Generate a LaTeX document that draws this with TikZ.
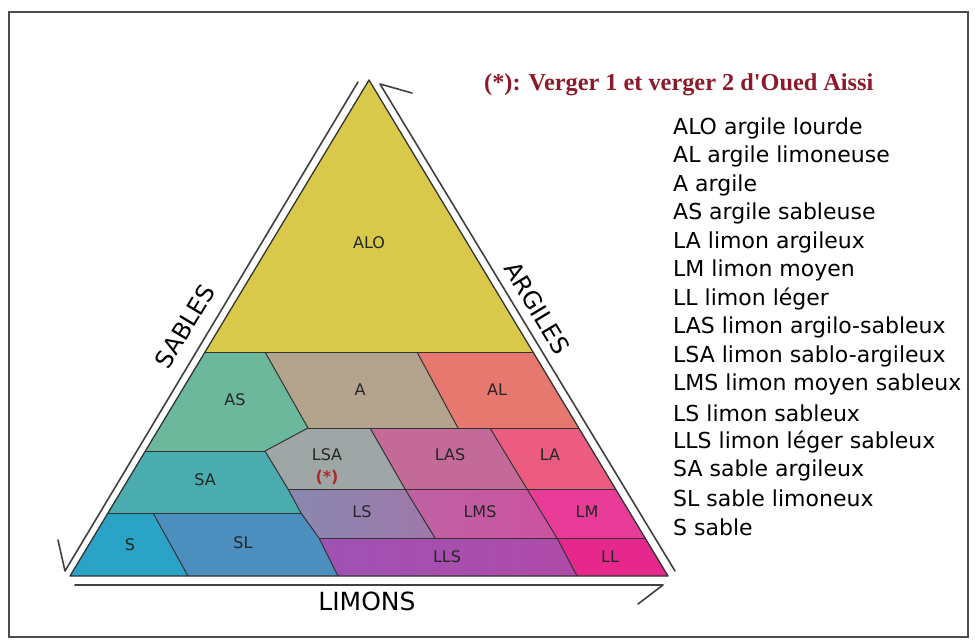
\documentclass[tikz,border=0pt]{standalone}
\usepackage{fontspec}
\setmainfont{DejaVu Sans}
\newfontfamily\titlefont{Liberation Serif}
\definecolor{cALO}{HTML}{D9C94B}
\definecolor{cAS}{HTML}{6CB89C}
\definecolor{cA}{HTML}{B4A38C}
\definecolor{cAL}{HTML}{E67870}
\definecolor{cLSA}{HTML}{9FA6A6}
\definecolor{cLAS}{HTML}{C46A98}
\definecolor{cLA}{HTML}{EC5C80}
\definecolor{cSA}{HTML}{4AACAE}
\definecolor{cLSl}{HTML}{8A88B0}
\definecolor{cLSr}{HTML}{A078AA}
\definecolor{cLMSl}{HTML}{BE62A2}
\definecolor{cLMSr}{HTML}{CC52A0}
\definecolor{cLM}{HTML}{E83C98}
\definecolor{cS}{HTML}{2BA3C6}
\definecolor{cSL}{HTML}{4C8EBE}
\definecolor{cLLSl}{HTML}{9E52B4}
\definecolor{cLLSr}{HTML}{B04AA8}
\definecolor{cLL}{HTML}{E6288C}
\definecolor{titlered}{HTML}{8B1A2A}
\definecolor{starred}{HTML}{B02A2A}
\begin{document}
\begin{tikzpicture}[x=1pt,y=-1pt,
  region/.style={draw=black!80, line width=1pt, line join=round},
  lab/.style={font=\fontsize{16}{16}\selectfont, text=black!85, inner sep=0pt},
  axislab/.style={font=\fontsize{24}{24}\selectfont, inner sep=0pt},
  legend/.style={anchor=west, font=\fontsize{22}{22}\selectfont, inner sep=0pt},
  guide/.style={draw=black!75, line width=1.6pt, line cap=round, line join=round}
]
\useasboundingbox (0,0) rectangle (975,641);
\draw[black!70, line width=1.5pt] (9,12) rectangle (968,637);

% regions
\fill[cALO] (369,80) -- (533,352) -- (205,352) -- cycle;
\fill[cAS] (205,352) -- (265,352) -- (308,428) -- (265,451) -- (145.4,451) -- cycle;
\fill[cA] (265,352) -- (417,352) -- (458,428) -- (308,428) -- cycle;
\fill[cAL] (417,352) -- (533,352) -- (578.8,428) -- (458,428) -- cycle;
\fill[cLSA] (308,428) -- (370,428) -- (405,489) -- (288,489) -- (265,451) -- cycle;
\fill[cLAS] (370,428) -- (490,428) -- (527,489) -- (405,489) -- cycle;
\fill[cLA] (490,428) -- (578.8,428) -- (615.6,489) -- (527,489) -- cycle;
\fill[cSA] (145.4,451) -- (265,451) -- (288,489) -- (301,513) -- (108,513) -- cycle;
\shade[left color=cLSl, right color=cLSr] (288,489) -- (405,489) -- (435,538) -- (319,538) -- (301,513) -- cycle;
\shade[left color=cLMSl, right color=cLMSr] (405,489) -- (527,489) -- (557,538) -- (435,538) -- cycle;
\fill[cLM] (527,489) -- (615.6,489) -- (645.1,538) -- (557,538) -- cycle;
\fill[cS] (108,513) -- (153,513) -- (188,576) -- (70,576) -- cycle;
\fill[cSL] (153,513) -- (301,513) -- (319,538) -- (338,576) -- (188,576) -- cycle;
\shade[left color=cLLSl, right color=cLLSr] (319,538) -- (557,538) -- (577,576) -- (338,576) -- cycle;
\fill[cLL] (557,538) -- (645.1,538) -- (668,576) -- (577,576) -- cycle;

% boundaries
\draw[region] (205,352) -- (533,352);
\draw[region] (265,352) -- (308,428) -- (265,451) -- (288,489) -- (301,513) -- (319,538) -- (338,576);
\draw[region] (417,352) -- (458,428);
\draw[region] (145.4,451) -- (265,451);
\draw[region] (308,428) -- (578.8,428);
\draw[region] (370,428) -- (405,489) -- (435,538);
\draw[region] (490,428) -- (527,489) -- (557,538) -- (577,576);
\draw[region] (288,489) -- (615.6,489);
\draw[region] (108,513) -- (301,513);
\draw[region] (153,513) -- (188,576);
\draw[region] (319,538) -- (645.1,538);
\draw[region, line width=1.3pt] (369,80) -- (668,576) -- (70,576) -- cycle;

% guide lines with half arrow heads
\draw[guide] (358,82) -- (65,571) -- (58,540);
\draw[guide] (412,93) -- (380,84) -- (675,571);
\draw[guide] (75,585) -- (663,585) -- (638,604);

% region labels
\node[lab] (lALO) at (369,243) {ALO};
\node[lab] (lAS) at (235,400) {AS};
\node[lab] (lA) at (360,390) {A};
\node[lab] (lAL) at (497,390) {AL};
\node[lab] (lLSA) at (327,455) {LSA};
\node[lab, text=starred, font=\fontsize{16}{16}\selectfont\bfseries] (lstar) at (327,477) {(*)};
\node[lab] (lLAS) at (450,455) {LAS};
\node[lab] (lLA) at (550,455) {LA};
\node[lab] (lSA) at (205,480) {SA};
\node[lab] (lLS) at (362,512) {LS};
\node[lab] (lLMS) at (480,512) {LMS};
\node[lab] (lLM) at (587,512) {LM};
\node[lab] (lS) at (130,545) {S};
\node[lab] (lSL) at (243,543) {SL};
\node[lab] (lLLS) at (447,557) {LLS};
\node[lab] (lLL) at (610,557) {LL};

% axis labels
\node[axislab, rotate=59] (sables) at (185,326) {SABLES};
\node[axislab, rotate=-59] (argiles) at (537,308) {ARGILES};
\node[axislab, font=\fontsize{25}{25}\selectfont] (limons) at (367,601) {LIMONS};

% title
\node[anchor=west, inner sep=0pt, text=titlered, font=\titlefont\bfseries\fontsize{24.3}{24.3}\selectfont] (title) at (484,85) {(*): Verger 1 et verger 2 d'Oued Aissi};

% legend
\foreach \t [count=\i from 0] in {ALO argile lourde, AL argile limoneuse, A argile, AS argile sableuse, LA limon argileux, LM limon moyen, LL limon léger, LAS limon argilo-sableux, LSA limon sablo-argileux, LMS limon moyen sableux, LS limon sableux, LLS limon léger sableux, SA sable argileux, SL sable limoneux, S sable}
  \node[legend] (leg\i) at (673,{128+28.5*\i}) {\t};
\end{tikzpicture}
\end{document}
